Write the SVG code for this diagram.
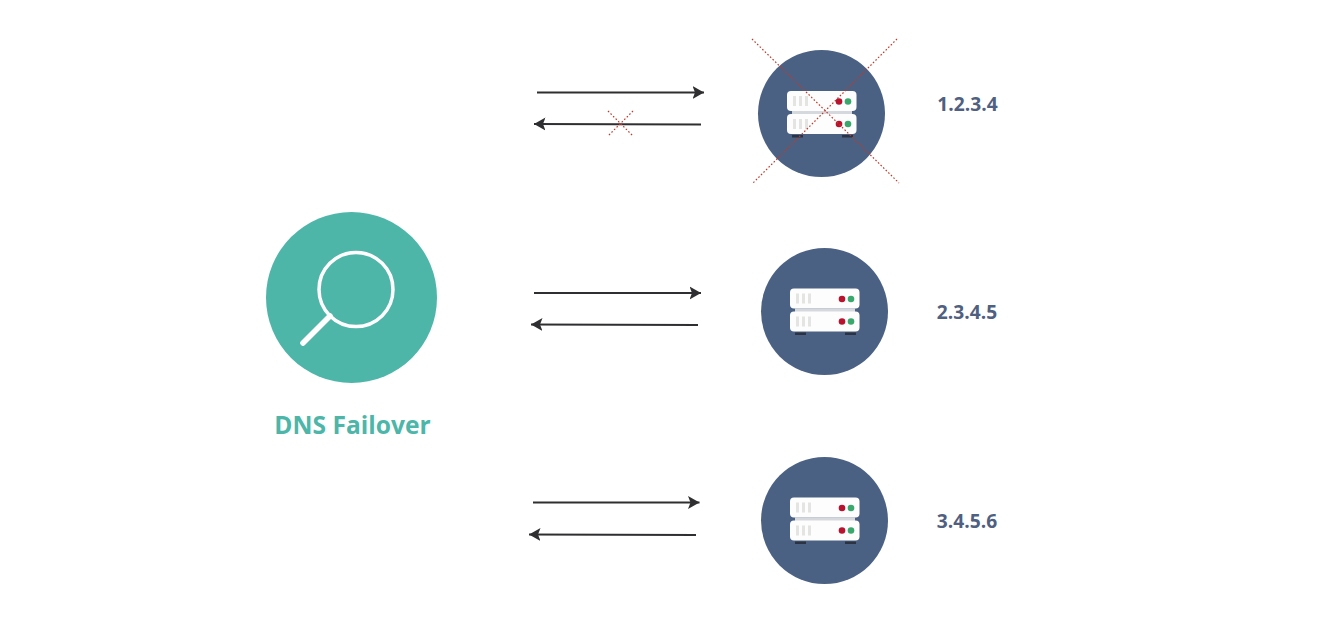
<svg xmlns="http://www.w3.org/2000/svg" width="1326" height="617" viewBox="0 0 1326 617">
<style>
.conn{stroke:#2f2f31;stroke-width:2;fill:none}
.x{stroke:#c0392b;stroke-width:1.2;stroke-dasharray:1.6 2;fill:none}
.disc{fill:#4a6183}
.box{fill:#fdfdfd}
.ip{font:700 19.200px "Open Sans","Noto Sans",sans-serif;fill:#4f6080;text-anchor:middle}
</style>
<defs>
<marker id="ah" viewBox="0 0 12 14" refX="11.500" refY="7" markerUnits="userSpaceOnUse" markerWidth="12" markerHeight="14" orient="auto-start-reverse"><path d="M0 0.500L11.500 7L0 13.500L2.500 7Z" fill="#2f2f31"/></marker>
<g id="server">
<rect x="-30" y="-3" width="60" height="4" fill="#d5d8dd"/>
<rect x="-30" y="21" width="11" height="2.500" fill="#2b3342"/>
<rect x="20" y="21" width="11" height="2.500" fill="#2b3342"/>
<rect class="box" x="-35" y="-23" width="69.500" height="20" rx="4"/>
<rect class="box" x="-35" y="0" width="69.500" height="20" rx="4"/>
<g fill="#e4e4e2">
<rect x="-29" y="-18" width="3" height="10"/><rect x="-23" y="-18" width="3" height="10"/><rect x="-17" y="-18" width="3" height="10"/>
<rect x="-29" y="5" width="3" height="10"/><rect x="-23" y="5" width="3" height="10"/><rect x="-17" y="5" width="3" height="10"/>
</g>
<circle cx="17" cy="-12.500" r="3.300" fill="#b8122e"/><circle cx="26" cy="-12.500" r="3.300" fill="#3aa76d"/>
<circle cx="17" cy="10" r="3.300" fill="#b8122e"/><circle cx="26" cy="10" r="3.300" fill="#3aa76d"/>
</g>
</defs>
<rect width="1326" height="617" fill="#fff"/>
<g id="connectors">
<line class="conn" x1="537" y1="92.500" x2="704" y2="92.500" marker-end="url(#ah)"/>
<line class="conn" x1="701" y1="124.500" x2="534" y2="124" marker-end="url(#ah)"/>
<line class="conn" x1="534" y1="293" x2="701" y2="293" marker-end="url(#ah)"/>
<line class="conn" x1="698" y1="325" x2="531" y2="324.500" marker-end="url(#ah)"/>
<line class="conn" x1="533" y1="502.500" x2="699.500" y2="502.500" marker-end="url(#ah)"/>
<line class="conn" x1="696" y1="535" x2="529" y2="534.500" marker-end="url(#ah)"/>
<path class="x" d="M608 111L633 136M633 111L608 136"/>
</g>
<g id="dns-failover">
<circle cx="351.500" cy="297.500" r="85.500" fill="#4db6a9"/>
<circle cx="356" cy="289.500" r="37" fill="none" stroke="#fff" stroke-width="3.500"/>
<line x1="330" y1="316" x2="303" y2="343" stroke="#fff" stroke-width="5.500" stroke-linecap="round"/>
<text x="352.500" y="434" font-family="'Open Sans','Noto Sans',sans-serif" font-weight="700" font-size="24.600" fill="#4db6a9" text-anchor="middle">DNS Failover</text>
</g>
<g id="server-1">
<circle class="disc" cx="821.500" cy="113.500" r="63.500"/>
<use href="#server" x="822" y="114"/>
<path class="x" d="M752 39L899 183M897 39L753 183"/>
<text class="ip" x="967.500" y="111">1.2.3.4</text>
</g>
<g id="server-2">
<circle class="disc" cx="824.500" cy="311.500" r="63.500"/>
<use href="#server" x="825" y="311.500"/>
<text class="ip" x="967" y="318.500">2.3.4.5</text>
</g>
<g id="server-3">
<circle class="disc" cx="824.500" cy="520.500" r="63.500"/>
<use href="#server" x="825" y="520.500"/>
<text class="ip" x="967" y="527.500">3.4.5.6</text>
</g>
</svg>
